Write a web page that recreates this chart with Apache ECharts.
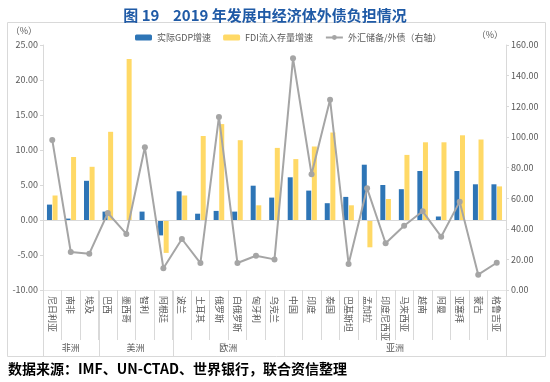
<!DOCTYPE html>
<html><head><meta charset="utf-8">
<script src="https://cdn.jsdelivr.net/npm/echarts@6/dist/echarts.min.js"></script>
<style>html,body{margin:0;padding:0;background:#fff}#c{width:550px;height:382px}</style>
</head><body><div id="c"></div>
<script>
const countries = ['尼日利亚','南非','埃及','巴西','墨西哥','智利','阿根廷','波兰','土耳其','俄罗斯','白俄罗斯','匈牙利','乌克兰','中国','印度','泰国','巴基斯坦','孟加拉','印度尼西亚','马来西亚','越南','阿曼','亚塞拜','蒙古','格鲁吉亚'];
const regions = ['非洲','美洲','欧洲','亚洲'];
const regionCounts = [3,4,6,12];
const gdpGrowth = [2.2,0.2,5.6,1.2,-0.1,1.2,-2.2,4.1,0.9,1.3,1.2,4.9,3.2,6.1,4.2,2.4,3.3,7.9,5.0,4.4,7.0,0.5,7.0,5.1,5.1];
const fdiGrowth = [3.5,9.0,7.6,12.6,23.0,-0.1,-4.7,3.5,12.0,13.7,11.4,2.1,10.3,8.7,10.5,12.5,2.1,-3.9,3.0,9.3,11.1,11.1,12.1,11.5,4.8];
const reserveDebt = [98,24.8,23.7,50.3,36.6,93.2,14.2,33.3,17.6,113,17.6,22.4,20,151.3,75.6,124.3,17,66.4,30.5,42,51.4,34.8,57.7,10,17.8];
const leftTicks = {min:-10,max:25,interval:5};
const rightTicks = {min:0,max:160,interval:20};

const FONT = '"Noto Sans CJK SC", "Liberation Sans", sans-serif';
const chart = echarts.init(document.getElementById('c'), null, {renderer:'canvas'});
const axisGray = '#d9d9d9';
const labelColor = '#595959';
chart.setOption({
  animation:false,
  textStyle:{fontFamily:FONT},
  title:{text:'图 19    2019 年发展中经济体外债负担情况', left:260, textAlign:'center', top:3,
    textStyle:{fontSize:15, fontWeight:'bold', color:'#1f5aa6', fontFamily:FONT}},
  legend:{left:130, top:28, itemWidth:17, itemHeight:6, itemGap:12,
    textStyle:{fontSize:9, color:labelColor, fontFamily:FONT},
    data:['实际GDP增速','FDI流入存量增速','外汇储备/外债（右轴）']},
  grid:{left:43, right:44, top:45, bottom:92, containLabel:false},
  xAxis:[{type:'category', data:countries, position:'bottom',
    axisLine:{onZero:false, lineStyle:{color:'#e6e6e6'}},
    axisTick:{show:true, interval:0, length:50, lineStyle:{color:axisGray}},
    axisLabel:{interval:0, rotate:-90, fontSize:9, color:labelColor, margin:6, fontFamily:FONT}}],
  yAxis:[{type:'value', min:leftTicks.min, max:leftTicks.max, interval:leftTicks.interval,
    name:'（%）', nameLocation:'end', nameGap:14,
    nameTextStyle:{align:'right', verticalAlign:'middle', padding:[0,6,0,0], fontSize:9, color:labelColor},
    axisLine:{show:true, lineStyle:{color:axisGray}}, axisTick:{show:true, length:3, lineStyle:{color:axisGray}},
    splitLine:{show:false},
    axisLabel:{fontSize:9, color:labelColor, formatter:v=>v.toFixed(2), margin:5}},
   {type:'value', min:rightTicks.min, max:rightTicks.max, interval:rightTicks.interval, position:'right',
    name:'（%）', nameLocation:'end', nameGap:10,
    nameTextStyle:{align:'right', verticalAlign:'middle', padding:[0,3,0,0], fontSize:9, color:labelColor},
    axisLine:{show:true, lineStyle:{color:axisGray}}, axisTick:{show:true, length:3, lineStyle:{color:axisGray}},
    splitLine:{show:false},
    axisLabel:{fontSize:9, color:labelColor, formatter:v=>v.toFixed(2), margin:5}}],
  series:[
    {name:'实际GDP增速', type:'bar', data:gdpGrowth, barWidth:5, barGap:'12%', itemStyle:{color:'#2e75b6'},
     markLine:{silent:true, symbol:'none', label:{show:false}, lineStyle:{color:axisGray, type:'solid', width:1}, data:[{yAxis:0}]}},
    {name:'FDI流入存量增速', type:'bar', data:fdiGrowth, barWidth:5, barGap:'12%', itemStyle:{color:'#ffd966'}},
    {name:'外汇储备/外债（右轴）', type:'line', yAxisIndex:1, data:reserveDebt, symbol:'circle', symbolSize:6,
     itemStyle:{color:'#a5a5a5'}, lineStyle:{color:'#a5a5a5', width:2}, z:5}
  ]
});

// frame, region separators & labels derived from the axis scale
function drawExtras(){
  const c0 = chart.convertToPixel({xAxisIndex:0}, 0);
  const c1 = chart.convertToPixel({xAxisIndex:0}, 1);
  const half = (c1 - c0)/2;
  const yBottom = chart.convertToPixel({yAxisIndex:0}, leftTicks.min);
  const els = [
    {type:'rect', shape:{x:7.5, y:22.5, width:538, height:334}, style:{fill:'none', stroke:axisGray, lineWidth:1}, silent:true},
    {type:'text', left:8, top:362, style:{text:'数据来源：IMF、UN-CTAD、世界银行，联合资信整理', font:'bold 14px '+FONT, fill:'#000'}}
  ];
  let start = 0;
  const edges = [start];
  regionCounts.forEach((n,i)=>{
    const leftX = chart.convertToPixel({xAxisIndex:0}, start) - half;
    const rightX = chart.convertToPixel({xAxisIndex:0}, start+n-1) + half;
    els.push({type:'text', x:(leftX+rightX)/2, y:348, style:{text:regions[i], font:'9px '+FONT, fill:labelColor, align:'center', verticalAlign:'middle'}});
    start += n;
    edges.push(start);
  });
  edges.forEach(idx=>{
    const x = Math.round(chart.convertToPixel({xAxisIndex:0}, Math.min(idx, countries.length-1)) + (idx>=countries.length? half : -half)) + 0.5;
    els.push({type:'line', shape:{x1:x, y1:yBottom, x2:x, y2:356}, style:{stroke:axisGray, lineWidth:1}, silent:true});
  });
  chart.setOption({graphic:els});
}
drawExtras();
</script></body></html>
